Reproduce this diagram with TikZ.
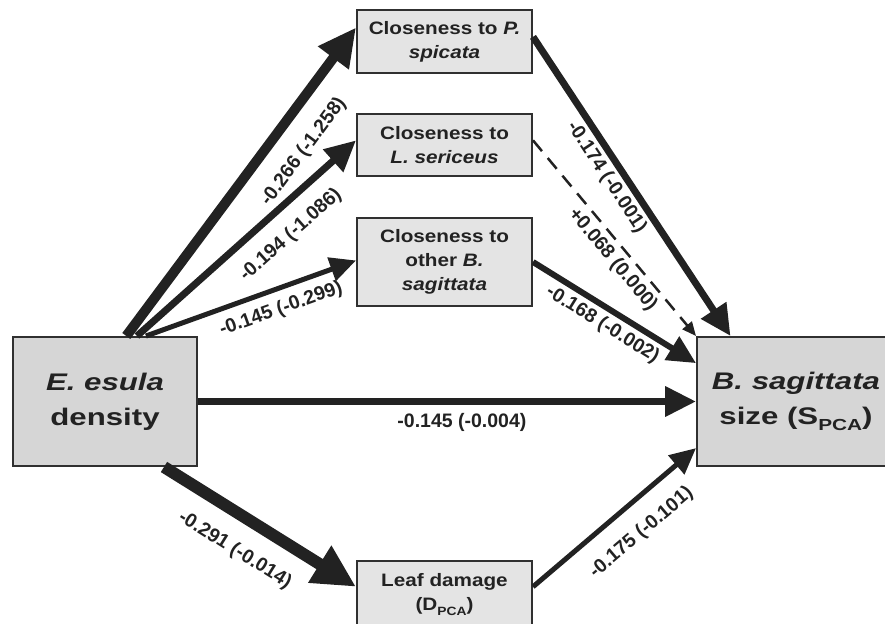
\documentclass[tikz,border=0pt]{standalone}
\usepackage{fontspec}
\setmainfont{Liberation Sans}
\newfontfamily\widesans[FakeStretch=1.15]{Liberation Sans}
\newfontfamily\widersans[FakeStretch=1.3]{Liberation Sans}
\usetikzlibrary{arrows.meta}

\definecolor{ink}{HTML}{222222}
\definecolor{edge}{HTML}{303030}
\definecolor{smallfill}{HTML}{E4E4E4}
\definecolor{bigfill}{HTML}{D6D6D6}

\newcommand{\pcasub}[1]{\raisebox{-0.28em}{\fontsize{#1}{#1}\selectfont PCA}}

\tikzset{
  rect/.style={draw=edge,fill=smallfill,line width=2pt,rectangle,align=center,
    minimum width=175pt,inner sep=2pt,text=ink,
    font=\widesans\bfseries\fontsize{18}{24}\selectfont},
  bigrect/.style={rect,fill=bigfill,minimum height=129pt,
    font=\widersans\bfseries\fontsize{24}{35}\selectfont},
  effect/.style={draw=ink,line width=#1,-{Triangle[length=14pt 2.4,width=12pt 2.4]}},
  coef/.style={sloped,inner sep=0pt,text=ink,font=\bfseries\fontsize{19.5}{22}\selectfont},
}

\begin{document}
\begin{tikzpicture}[x=1pt,y=-1pt,node distance=339.5pt]
\useasboundingbox (0,0) rectangle (885,623);

\node[bigrect,minimum width=184pt](esula) at (105,401.5) {\textit{E. esula}\\density};
\node[rect,minimum height=63pt,right of=esula,yshift=360pt](spicata) {Closeness to \textit{P.}\\\textit{spicata}};
\node[rect,minimum height=62pt,right of=esula,yshift=256.5pt](sericeus) {Closeness to\\\textit{L. sericeus}};
\node[rect,minimum height=88pt,right of=esula,yshift=139.5pt](other) {Closeness to\\other \textit{B.}\\\textit{sagittata}};
\node[rect,minimum height=67pt,right of=esula,yshift=-193pt](damage) {Leaf damage\\(D\pcasub{12})};
\node[bigrect,minimum width=198pt,right of=esula,xshift=351.5pt](size) {\textit{B. sagittata}\\size (S\pcasub{16})};

\draw [effect=10pt] (esula.72) -- (spicata.171)
             node[coef,pos=.66,below=18pt]{-0.266 (-1.258)};
\draw [effect=7pt] (esula.64) -- (sericeus.177)
             node[coef,pos=.62,below=14.5pt]{-0.194 (-1.086)};
\draw [effect=5pt] (esula.58) -- (other.179)
             node[coef,pos=.61,below=9pt]{-0.145 (-0.299)};
\draw [effect=12pt] (esula.-48) -- (damage.175)
             node[coef,pos=.46,below=18pt]{-0.291 (-0.014)};
\draw [effect=7pt] (esula.east) -- (size.west)
             node[coef,pos=.53,below=8.5pt]{-0.145 (-0.004)};

\draw [effect=7pt] (spicata.3) -- (size.135)
             node[coef,pos=.44,below=3.5pt]{-0.174 (-0.001)};
\draw [effect=2.5pt,dash pattern=on 14pt off 9pt,-{Triangle[length=14pt,width=12pt]}] (sericeus.3) -- (size.north west)
             node[coef,pos=.56,below=5pt]{+0.068 (0.000)};
\draw [effect=6pt] (other.east) -- (size.159)
             node[coef,pos=.48,below=4.5pt]{-0.168 (-0.002)};
\draw [effect=5pt] (damage.5) -- (size.205)
             node[coef,pos=.55,below=17.5pt]{-0.175 (-0.101)};
\end{tikzpicture}
\end{document}
